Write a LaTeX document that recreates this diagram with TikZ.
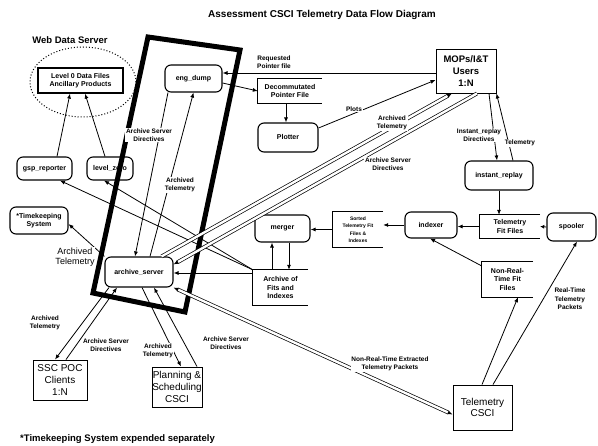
\documentclass[tikz,border=0pt]{standalone}
\usepackage{fontspec}
\setmainfont{Liberation Sans}
\usetikzlibrary{arrows.meta,calc}
\newcommand\fz[2]{\fontsize{#1}{#2}\selectfont}
\begin{document}
\begin{tikzpicture}[x=1pt,y=-1pt,
  every node/.style={inner sep=0pt, align=center},
  proc/.style={draw, rounded corners=6pt, line width=1.1pt, font=\fz{7}{8.5}\bfseries},
  ext/.style={draw, line width=0.9pt, font=\fz{10}{11.7}},
  store/.style={font=\fz{7}{8.5}\bfseries},
  storeline/.style={line width=1.2pt},
  lab/.style={font=\fz{6.5}{8.5}\bfseries, fill=white, inner sep=0.6pt},
  biglab/.style={font=\fz{9}{10.5}, fill=white, inner sep=0.6pt},
  tip/.style={-{Latex[length=5pt,width=4pt]}},
  flow/.style={line width=0.8pt, tip},
  pipe/.style={double, double distance=2.4pt, line width=0.7pt},
]
\useasboundingbox (0,0) rectangle (598,446);
\fill[white] (0,0) rectangle (598,446);

% title and notes
\node[font=\fz{10}{12}\bfseries] (title) at (322,15) {Assessment CSCI Telemetry Data Flow Diagram};
\node[font=\fz{9.5}{11}\bfseries] (web) at (70,40) {Web Data Server};
\node[font=\fz{9.5}{11}\bfseries, anchor=west] (foot) at (20,439) {*Timekeeping System expended separately};
\draw[dotted, line width=1pt] (83,82) ellipse [x radius=53pt, y radius=35pt];

% thick boundary
\draw[line width=5pt, line join=miter] (148,37) -- (240,50) -- (185,312) -- (93,293) -- cycle;

% processes
\node[proc, minimum width=57pt, minimum height=27pt] (engdump) at (193.5,78.5) {eng\_dump};
\node[proc, minimum width=60pt, minimum height=29pt] (plotter) at (288,137.5) {Plotter};
\node[proc, minimum width=68pt, minimum height=29pt] (instrep) at (499,175.5) {instant\_replay};
\node[proc, minimum width=49pt, minimum height=28pt] (spooler) at (571.5,227) {spooler};
\node[proc, minimum width=52pt, minimum height=26pt] (indexer) at (431,225) {indexer};
\node[proc, minimum width=55pt, minimum height=27pt] (merger) at (282.5,228.5) {merger};
\node[proc, minimum width=55pt, minimum height=23pt] (gsp) at (44.5,168.5) {gsp\_reporter};
\node[proc, minimum width=46pt, minimum height=23pt] (lzero) at (110,168.5) {level\_zero};
\node[proc, minimum width=58pt, minimum height=27pt] (timek) at (39,220.5) {*Timekeeping\\System};
\node[proc, minimum width=68pt, minimum height=30pt] (archsrv) at (139,272) {archive\_server};

% externals
\node[ext, font=\fz{9.5}{12}\bfseries, minimum width=60pt, minimum height=44pt] (mops) at (466,71) {MOPs/I\&T\\Users\\1:N};
\node[ext, minimum width=54pt, minimum height=40pt] (ssc) at (60,380) {SSC POC\\Clients\\1:N};
\node[ext, minimum width=50pt, minimum height=40pt] (plan) at (177,387) {Planning \&\\Scheduling\\CSCI};
\node[ext, minimum width=59pt, minimum height=45pt] (tcsci) at (482.5,407.5) {Telemetry\\CSCI};

% stores
\node[draw, line width=1.2pt, store, minimum width=85pt, minimum height=25pt] (level0) at (80.5,80.5) {Level 0 Data Files\\Ancillary Products};
\node[store, minimum width=64pt, minimum height=24pt] (decom) at (290,91) {Decommutated\\Pointer File};
\node[store, minimum width=60pt, minimum height=23pt] (tff) at (510,226.5) {Telemetry\\Fit Files};
\node[store, font=\fz{5}{7.5}\bfseries, minimum width=50pt, minimum height=35pt] (sorted) at (358,229.5) {Sorted\\Telemetry Fit\\Files \&\\Indexes};
\node[store, minimum width=55pt, minimum height=35pt] (archfits) at (280.5,287.5) {Archive of\\Fits and\\Indexes};
\node[store, minimum width=51pt, minimum height=35pt] (nrtff) at (507.5,279.5) {Non-Real-\\Time Fit\\Files};
\foreach \s in {decom,tff,sorted,archfits,nrtff}
  \draw[storeline] (\s.north east) -- (\s.north west) -- (\s.south west) -- (\s.south east);

% connectors
\draw[flow] ([yshift=-2pt]mops.west) -- ([yshift=5.5pt]engdump.east);
\draw[flow] ([yshift=-4.5pt]engdump.east) -- (decom.west);
\draw[flow] ([xshift=-4pt]decom.south) -- ([xshift=-2pt]plotter.north);
\draw[flow] ([yshift=9.5pt]plotter.east) -- ([yshift=-9pt]mops.west);
\draw[flow] ([xshift=23pt]mops.south) -- ([xshift=-2pt]instrep.north);
\draw[flow] ([xshift=14pt]instrep.north) -- (mops.south east);
\draw[flow] (instrep.south) -- (instrep.south |- tff.north);
\draw[line width=0.8pt, -{Latex[length=4pt,width=4pt]}] (spooler.west) -- (tff.east);
\draw[flow] (tff.west) -- (tff.west -| indexer.east);
\draw[flow] (indexer.west) -- (indexer.west -| sorted.east);
\draw[flow] (sorted.west) -- (sorted.west -| merger.east);
\draw[flow] ([xshift=-8.5pt]archfits.north) -- ([xshift=-10.5pt]merger.south);
\draw[flow] ([xshift=6.5pt]merger.south) -- ([xshift=8.5pt]archfits.north);
\draw[flow] ([yshift=14.5pt]archfits.west) -- ([yshift=-1pt]archsrv.east);
\draw[flow] (archfits.north west) -- ([xshift=15.5pt]gsp.south);
\draw[flow] (archfits.north west) -- ([xshift=-6pt]lzero.south);
\draw[flow] (archsrv.north west) -- ([yshift=-3.5pt]timek.east);
\draw[flow] ([xshift=12.5pt]gsp.north) -- ([xshift=-10.5pt]level0.south);
\draw[flow] ([xshift=-5pt]lzero.north) -- ([xshift=4.5pt]level0.south);
\draw[flow] ([xshift=-25.5pt]engdump.south) -- ([xshift=-4pt]archsrv.north);
\draw[flow] ([xshift=11pt]archsrv.north) -- (engdump.south);
\draw[flow] ([xshift=-30pt]archsrv.south) -- ([xshift=-5pt]ssc.north);
\draw[flow] ([xshift=6pt]ssc.north) -- ([xshift=-22pt]archsrv.south);
\draw[flow] ([xshift=3pt]archsrv.south) -- ([xshift=4pt]plan.north);
\draw[flow] ([xshift=20pt]plan.north) -- ([xshift=15pt]archsrv.south);
\draw[flow] ([xshift=-0.5pt]tcsci.north) -- ([xshift=10.5pt]nrtff.south);
\draw[flow] ([xshift=10.5pt]tcsci.north) -- ([xshift=5.5pt]spooler.south);
\draw[flow] ([yshift=13.5pt]nrtff.west) -- ([xshift=-1pt]indexer.south);

% pipes
\draw[pipe, tip] ([xshift=-12pt]archsrv.north east) -- ([xshift=-14pt]mops.south);
\draw[pipe, tip] ([xshift=11pt]mops.south) -- ([yshift=-8pt]archsrv.north east);
\draw[pipe, {Latex[length=5pt,width=4pt]}-{Latex[length=5pt,width=4pt]}] (archsrv.south east) -- ([yshift=-7pt]tcsci.west);

% labels
\node[lab] (l1) at (274,62) {Requested\\Pointer file};
\node[lab] (l2) at (354,109) {Plots};
\node[lab] (l3) at (392,123) {Archived\\Telemetry};
\node[lab] (l4) at (388,164) {Archive Server\\Directives};
\node[lab] (l5) at (479,135) {Instant\_replay\\Directives};
\node[lab] (l6) at (520,143) {Telemetry};
\node[lab] (l7) at (149,135) {Archive Server\\Directives};
\node[lab] (l8) at (180,185) {Archived\\Telemetry};
\node[biglab] (l9) at (75,257) {Archived\\Telemetry};
\node[lab] (l10) at (45,323) {Archived\\Telemetry};
\node[lab] (l11) at (106,345) {Archive Server\\Directives};
\node[lab] (l12) at (158,351) {Archived\\Telemetry};
\node[lab] (l13) at (226,343) {Archive Server\\Directives};
\node[lab] (l14) at (390,364) {Non-Real-Time Extracted\\Telemetry Packets};
\node[lab] (l15) at (570,299) {Real-Time\\Telemetry\\Packets};
\end{tikzpicture}
\end{document}
